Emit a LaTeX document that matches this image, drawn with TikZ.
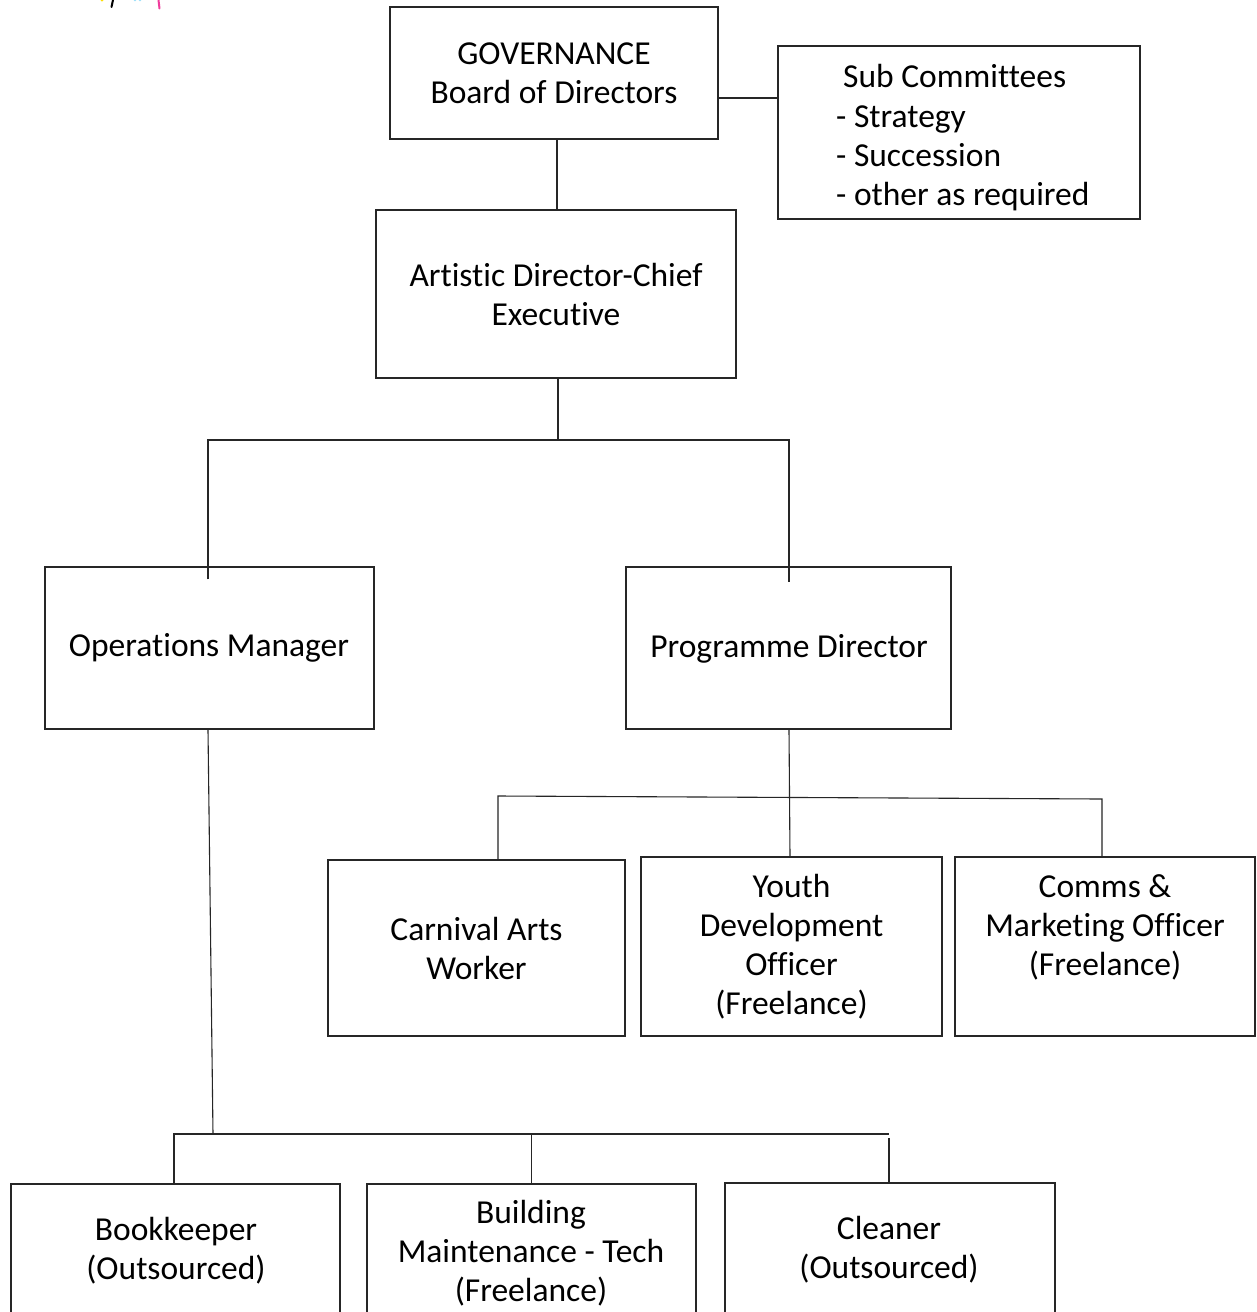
\documentclass[tikz,border=0pt]{standalone}
\usepackage{fontspec}
\setmainfont{Carlito}[Ligatures=NoCommon]
\begin{document}
\begin{tikzpicture}[x=1pt,y=-1pt,
  box/.style={draw=black!85, line width=1.4pt, inner sep=0pt, rectangle},
  txt/.style={align=center, font=\fontsize{33.5}{39}\selectfont, inner sep=0pt, text=black},
  ltxt/.style={align=left, anchor=base west, font=\fontsize{33.5}{39}\selectfont, inner sep=0pt, text=black},
  conn/.style={draw=black!85, line width=1.1pt}]
\clip (0,0) rectangle (1256,1312);
\fill[white] (0,0) rectangle (1256,1312);
% stray marks at top left
\draw[black, line width=2pt, line cap=round] (113,0) -- (111.5,7);
\draw[magenta!70!pink, line width=2pt, line cap=round] (158.5,0) -- (159.5,8.5);
\fill[yellow!80!orange] (102,0) circle (1.5);
\fill[cyan!40] (135,0) circle (1.3);
\fill[cyan!40] (140,0) circle (1.3);

% boxes
\node[box, minimum width=328, minimum height=132] (gov) at (554,73) {};
\node[box, minimum width=362, minimum height=173] (sub) at (959,132.5) {};
\node[box, minimum width=360, minimum height=168] (art) at (556,294) {};
\node[box, minimum width=329, minimum height=162] (ops) at (209.5,648) {};
\node[box, minimum width=325, minimum height=162] (prog) at (788.5,648) {};
\node[box, minimum width=297, minimum height=176] (carn) at (476.5,948) {};
\node[box, minimum width=301, minimum height=179] (youth) at (791.5,946.5) {};
\node[box, minimum width=300, minimum height=179] (comms) at (1105,946.5) {};
\node[box, minimum width=329, minimum height=140] (book) at (175.5,1254) {};
\node[box, minimum width=329, minimum height=140] (build) at (531.5,1254) {};
\node[box, minimum width=330, minimum height=140] (clean) at (890,1253) {};

% texts
\node[txt] (gov-t) at (554,73.5) {GOVERNANCE\\Board of Directors};
\node[ltxt] (sub-t1) at (843,87) {Sub Committees};
\node[ltxt] (sub-t2) at (836,127) {- Strategy};
\node[ltxt] (sub-t3) at (836,166) {- Succession};
\node[ltxt] (sub-t4) at (836,205) {- other as required};
\node[txt] (art-t) at (556,294.5) {Artistic Director-Chief\\Executive};
\node[txt] (ops-t) at (209,648) {Operations Manager};
\node[txt] (prog-t) at (789,649) {Programme Director};
\node[txt] (carn-t) at (476.5,948.5) {Carnival Arts\\Worker};
\node[txt] (youth-t) at (791.5,946.5) {Youth\\Development\\Officer\\(Freelance)};
\node[txt] (comms-t) at (1105,927) {Comms \&\\Marketing Officer\\(Freelance)};
\node[txt] (book-t) at (176,1250.5) {Bookkeeper\\(Outsourced)};
\node[txt] (build-t) at (531,1253.5) {Building\\Maintenance - Tech\\(Freelance)};
\node[txt] (clean-t) at (889,1249.5) {Cleaner\\(Outsourced)};

% junction coordinates
\coordinate (j1) at (558,440);
\coordinate (h1) at (498,796);
\coordinate (h2) at (1102,799);
\coordinate (h3) at (213,1134);
\coordinate (h4) at (174,1134);
\coordinate (h5) at (889,1134);

% connectors
\draw[conn] ([yshift=-25]gov.east) -- ([yshift=-25]gov.east -| sub.west);
\draw[conn] ([xshift=3]gov.south) -- ([xshift=3]gov.south |- art.north);
\draw[conn] ([xshift=2]art.south) -- (j1);
\draw[conn] ([xshift=-1.5,yshift=-13]ops.north) |- (j1) -| ([xshift=0.5,yshift=-16]prog.north);
\draw[conn] ([xshift=0.5]prog.south) -- ([xshift=-1.5]youth.north);
\draw[conn] (carn.north -| h1) -- (h1) -- (h2) -- (comms.north -| h2);
\draw[conn] ([xshift=-1.5]ops.south) -- (h3);
\draw[conn] (book.north -| h4) -- (h4) -- (h5);
\draw[conn] (h3 -| build.north) -- (build.north);
\draw[conn] ([yshift=-4]h5) -- (clean.north -| h5);
\end{tikzpicture}
\end{document}
